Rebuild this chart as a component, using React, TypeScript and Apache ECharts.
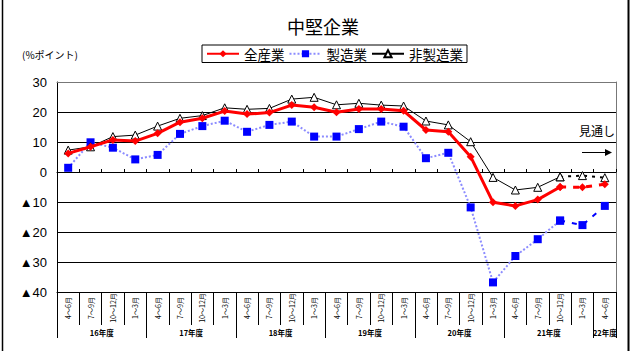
import React, { useEffect, useRef } from "react";
import * as echarts from "echarts";

const categories = [
  "4～6月", "7～9月", "10～12月", "1～3月",
  "4～6月", "7～9月", "10～12月", "1～3月",
  "4～6月", "7～9月", "10～12月", "1～3月",
  "4～6月", "7～9月", "10～12月", "1～3月",
  "4～6月", "7～9月", "10～12月", "1～3月",
  "4～6月", "7～9月", "10～12月", "1～3月",
  "4～6月",
];
const years = ["16年度", "17年度", "18年度", "19年度", "20年度", "21年度", "22年度"];
const quartersPerYear = [4, 4, 4, 4, 4, 4, 1];

const allIndustries = [6.2, 8.4, 10.7, 10.3, 12.9, 16.6, 17.9, 20.3, 19.3, 19.8, 22.3, 21.6, 19.9, 21.0, 21.0, 20.4, 14.0, 13.4, 5.1, -10.1, -11.3, -9.2, -5.0, -5.1, -4.1];
const manufacturing = [1.4, 9.9, 8.1, 4.2, 5.7, 12.7, 15.3, 17.1, 13.4, 15.7, 16.8, 11.8, 11.8, 14.3, 16.8, 15.1, 4.6, 6.4, -11.8, -36.8, -28.0, -22.4, -16.2, -17.7, -11.3];
const nonManufacturing = [7.3, 8.4, 11.8, 12.3, 15.3, 17.9, 18.8, 21.4, 20.9, 21.2, 24.3, 24.9, 22.4, 22.9, 22.3, 22.0, 17.0, 15.7, 10.1, -1.8, -6.0, -5.1, -1.6, -1.2, -1.9];
const forecastStart = 22;

const seriesNames = ["全産業", "製造業", "非製造業"];

const CJK = "'Noto Sans CJK JP', 'Liberation Sans', sans-serif";
const NUM = "'Liberation Sans', Arial, sans-serif";

function actual(arr: number[]) {
  return arr.map((v, i) => (i <= forecastStart ? v : null));
}
function forecast(arr: number[]) {
  return arr.map((v, i) => (i >= forecastStart ? v : null));
}

export default function App() {
  const ref = useRef<HTMLDivElement>(null);
  useEffect(() => {
    document.body.style.margin = "0";
    const chart = echarts.init(ref.current!, null, { renderer: "svg" });

    const yearTicks: number[] = [0];
    const yearCenters: number[] = [];
    let acc = 0;
    quartersPerYear.forEach((q) => {
      yearCenters.push(acc + q / 2);
      acc += q;
      yearTicks.push(acc);
    });

    const redStyle = { color: "#ff0000" };
    const blueStyle = { color: "#0000ff" };
    const blackStyle = { color: "#ffffff", borderColor: "#000000", borderWidth: 1 };

    chart.setOption({
      animation: false,
      title: {
        text: "中堅企業",
        left: 318,
        textAlign: "center",
        top: 12,
        textStyle: { fontFamily: CJK, fontSize: 18, fontWeight: "normal", color: "#000" },
      },
      legend: {
        data: seriesNames,
        left: 202,
        top: 45,
        padding: [2, 4],
        borderColor: "#000",
        borderWidth: 1,
        itemWidth: 32,
        itemHeight: 9,
        itemGap: 4,
        textStyle: { fontFamily: CJK, fontSize: 13.5, color: "#000" },
      },
      grid: { left: 57, right: 14, top: 82, bottom: 59, containLabel: false },
      xAxis: [
        {
          type: "category",
          data: categories,
          position: "bottom",
          boundaryGap: true,
          axisLine: { onZero: false, lineStyle: { color: "#000", width: 1 } },
          axisTick: { show: true, interval: 0, length: 33, inside: false, lineStyle: { color: "#000" } },
          axisLabel: {
            interval: 0,
            rotate: 90,
            align: "center",
            verticalAlign: "middle",
            margin: 16,
            fontSize: 7,
            fontFamily: CJK,
            color: "#000",
          },
          splitLine: { show: false },
        },
        {
          type: "value",
          min: 0,
          max: categories.length,
          position: "bottom",
          axisLine: { show: false, onZero: false },
          axisTick: {
            show: true,
            length: 46,
            customValues: yearTicks,
            lineStyle: { color: "#000" },
          },
          axisLabel: {
            show: true,
            customValues: yearCenters,
            margin: 37,
            fontSize: 7.5,
            fontWeight: "bold",
            fontFamily: CJK,
            color: "#000",
            formatter: (v: number) => {
              const idx = yearCenters.findIndex((c) => Math.abs(c - v) < 1e-6);
              return idx >= 0 ? years[idx] : "";
            },
          },
          splitLine: { show: false },
        },
        {
          type: "category",
          data: categories,
          position: "bottom",
          boundaryGap: true,
          axisLine: { show: true, onZero: true, lineStyle: { color: "#000", width: 1 } },
          axisTick: { show: true, interval: 0, length: 3, inside: true, lineStyle: { color: "#000" } },
          axisLabel: { show: false },
          splitLine: { show: false },
        },
        {
          type: "category",
          data: categories,
          position: "top",
          axisLine: { show: true, onZero: false, lineStyle: { color: "#777", width: 1 } },
          axisTick: { show: false },
          axisLabel: { show: false },
        },
      ],
      yAxis: [
        {
          type: "value",
          min: -40,
          max: 30,
          interval: 10,
          axisLine: { show: true, lineStyle: { color: "#000", width: 1 } },
          axisTick: { show: false },
          axisLabel: {
            margin: 10,
            fontSize: 13,
            fontFamily: NUM,
            color: "#000",
            formatter: (v: number) => (v < 0 ? "▲" + Math.abs(v) : String(v)),
          },
          splitLine: { show: true, lineStyle: { color: "#000", width: 1 } },
        },
        {
          type: "value",
          min: -40,
          max: 30,
          interval: 10,
          position: "right",
          axisLine: { show: true, lineStyle: { color: "#777", width: 1 } },
          axisTick: { show: false },
          axisLabel: { show: false },
          splitLine: { show: false },
        },
      ],
      series: [
        {
          name: "製造業",
          type: "line",
          data: actual(manufacturing),
          symbol: "rect",
          symbolSize: 8,
          itemStyle: blueStyle,
          lineStyle: { color: "#8c8cff", width: 2, type: "dotted" },
          z: 3,
        },
        {
          name: "製造業見通し",
          type: "line",
          data: forecast(manufacturing),
          symbol: "rect",
          symbolSize: 8,
          itemStyle: blueStyle,
          lineStyle: { color: "#0000ff", width: 2, type: [5, 7] },
          z: 3,
        },
        {
          name: "非製造業",
          type: "line",
          data: actual(nonManufacturing),
          symbol: "triangle",
          symbolSize: 8,
          itemStyle: blackStyle,
          lineStyle: { color: "#000", width: 1 },
          z: 4,
        },
        {
          name: "非製造業見通し",
          type: "line",
          data: forecast(nonManufacturing),
          symbol: "triangle",
          symbolSize: 8,
          itemStyle: blackStyle,
          lineStyle: { color: "#000", width: 2, type: [3, 5] },
          z: 4,
        },
        {
          name: "全産業",
          type: "line",
          data: actual(allIndustries),
          symbol: "diamond",
          symbolSize: 8,
          itemStyle: redStyle,
          lineStyle: { color: "#ff0000", width: 3 },
          z: 5,
        },
        {
          name: "全産業見通し",
          type: "line",
          data: forecast(allIndustries),
          symbol: "diamond",
          symbolSize: 8,
          itemStyle: redStyle,
          lineStyle: { color: "#ff0000", width: 3, type: [6, 7] },
          z: 5,
        },
      ],
      graphic: [
        {
          type: "text",
          left: 22,
          top: 49,
          style: { text: "(%ポイント)", fontFamily: CJK, fontSize: 10, fill: "#000" },
        },
        {
          type: "text",
          left: 579,
          top: 124,
          style: { text: "見通し", fontFamily: CJK, fontSize: 12, fill: "#000" },
        },
        {
          type: "line",
          shape: { x1: 582, y1: 152.5, x2: 606, y2: 152.5 },
          style: { stroke: "#000", lineWidth: 1 },
          z: 10,
        },
        {
          type: "polygon",
          shape: { points: [[605, 149], [612, 152.5], [605, 156]] },
          style: { fill: "#000" },
          z: 10,
        },
        {
          type: "line",
          shape: { x1: 2.5, y1: 0, x2: 2.5, y2: 351 },
          style: { stroke: "#000", lineWidth: 1.5 },
        },
        {
          type: "line",
          shape: { x1: 628.5, y1: 0, x2: 628.5, y2: 351 },
          style: { stroke: "#000", lineWidth: 2 },
        },
      ],
    });
    return () => chart.dispose();
  }, []);
  return <div ref={ref} style={{ width: 630, height: 351, position: "absolute", left: 0, top: 0 }} />;
}
